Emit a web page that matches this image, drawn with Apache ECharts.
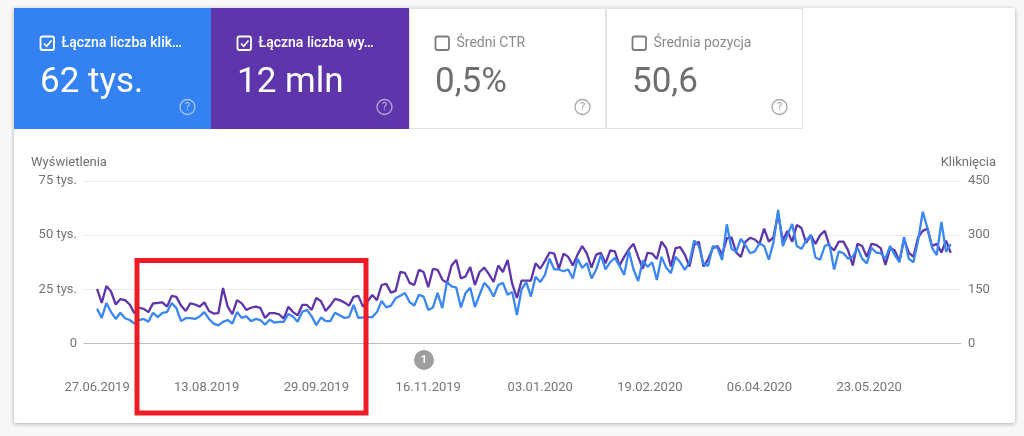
<!DOCTYPE html>
<html lang="pl">
<head>
<meta charset="utf-8">
<script src="https://cdn.jsdelivr.net/npm/echarts@6/dist/echarts.min.js"></script>
<style>html,body{margin:0;padding:0;background:#f7f7f7}#c{width:1024px;height:436px}</style>
</head>
<body>
<div id="c"></div>
<script>
// one reading every second day, starting 27.06.2019
const stepDays = 2;
const impressionsThousands = [
25.2,18.7,26.5,24,18,20.5,20,18,14,16.5,16,14.5,18.5,18.7,19,17,22,21.5,17.5,15,18.5,18,17,19,15,13.8,14,25.6,17,13.5,20,
18.5,15.5,16.5,17,16.4,11.8,14,14,13.5,11.5,16.9,14.5,13,17.8,17.8,15.5,21,19.5,15,17.5,20.6,20,19,17.5,21.5,22,17,19.5,22.4,20,27,
27.5,23.5,24.3,33,32.6,28,27,34,33,26,34.4,34,29.5,28,36,38.6,30,31,35.3,27,33,35,32,28.4,36,33,38.6,27.5,21,29,29,
29,37,34.5,38,42,41.5,34.5,41.5,40,36,41,45,41.5,35,41,41.8,37,43,42.5,36,40,43.5,46,40,34.5,41.8,41.5,39,47,44,35.5,
44,44.5,41,35.5,45.5,47,35.5,39,44,45,41,48.5,49,42,40,47,48.8,48,46,53,47,49,60,47.5,52,46.9,54.7,53.3,46.4,50,46,
50,52,45,43,47,47,43,36,46,45,40,46,45.5,44,36.3,44,43,38,48,42,40,49,52,53,45,46,42,47.5,41.8
];
const clicks = [
96,71,112,87,68,85,70,65,55,65,68,60,85,73,85,87,112,98,62,70,70,68,75,87,68,55,50,60,65,55,87,
71,75,62,68,65,52,66,58,60,60,82,75,60,88,93,75,51,72,62,62,85,78,71,73,107,71,72,73,73,87,118,
100,105,125,132,140,115,105,135,130,93,100,140,98,170,158,155,100,140,154,101,135,168,154,130,162,168,135,143,79,150,170,
130,185,170,190,235,205,205,200,205,180,235,209,223,180,205,245,205,225,237,215,190,257,205,173,230,212,225,176,240,210,195,
240,225,204,225,285,270,220,215,270,265,231,330,262,254,290,272,250,255,277,270,232,280,370,270,300,331,270,262,285,300,238,
232,270,275,205,255,250,235,240,265,235,222,265,252,250,235,270,245,225,295,235,225,285,365,320,265,245,337,254,275
];
const tickDays = [0,47,94,142,190,237,284,331];
const tickLabels = ['27.06.2019','13.08.2019','29.09.2019','16.11.2019','03.01.2020','19.02.2020','06.04.2020','23.05.2020'];
const leftTicks = [0,25,50,75];
const rightTicks = [0,150,300,450];
const leftTitle = 'Wyświetlenia';
const rightTitle = 'Kliknięcia';
const tileTitles = ['Łączna liczba klik…','Łączna liczba wy…','Średni CTR','Średnia pozycja'];
const tileValues = ['62 tys.','12 mln','0,5%','50,6'];
const annotationLabel = '1';

const BLUE='#3a86f3', PURPLE='#5e35ab', GREY='#757575', FONT='Roboto, sans-serif';
const chart = echarts.init(document.getElementById('c'), null, {renderer:'canvas'});

function tile(i,x,w,fill,on){
  const out = [
    {type:'rect',z:1,shape:{x:x+(on?0:.5),y:on?8:8.5,width:on?w:w-1,height:on?121:120},
     style:{fill,stroke:on?null:'#e3e3e3',lineWidth:1}},
    {type:'rect',z:2,shape:{x:x+26.5,y:36.5,width:13.5,height:13.5,r:2},style:{fill:'transparent',stroke:on?'#fff':'#7c7c7c',lineWidth:1.8}},
    {type:'text',z:2,x:x+47.5,y:43,style:{text:tileTitles[i],fill:on?'#fff':'#8a8a8a',font:(on?'500 ':'')+'14px '+FONT,verticalAlign:'middle'}},
    {type:'text',z:2,x:x+26,y:83,style:{text:tileValues[i],fill:on?'#fff':'#6f6f6f',font:'35px '+FONT,verticalAlign:'middle'}},
    {type:'circle',z:2,shape:{cx:x+173.5,cy:107,r:7.5},style:{fill:'transparent',stroke:on?'rgba(255,255,255,.55)':'#a8a8a8',lineWidth:1.3}},
    {type:'text',z:2,x:x+173.5,y:107.5,style:{text:'?',fill:on?'rgba(255,255,255,.6)':'#a0a0a0',font:'11px '+FONT,align:'center',verticalAlign:'middle'}}
  ];
  if(on) out.push({type:'polyline',z:2,shape:{points:[[x+30,43.5],[x+32.7,46.3],[x+37.5,40.5]]},style:{stroke:'#fff',lineWidth:1.7,fill:'none'}});
  return out;
}

chart.setOption({
  animation:false,
  backgroundColor:'#f7f7f7',
  textStyle:{fontFamily:FONT},
  grid:{left:84,right:63,top:181,bottom:92.5,containLabel:false},
  xAxis:{
    type:'value',min:-5.6,max:370.4,
    splitLine:{show:false},
    axisTick:{show:false},
    axisLine:{show:true,onZero:false,lineStyle:{color:'#bdbdbd',width:1}},
    axisLabel:{customValues:tickDays,margin:37,padding:[1,0,0,0],color:'#757575',fontSize:13,fontFamily:FONT,
      formatter:v=>tickLabels[tickDays.indexOf(v)]}
  },
  yAxis:[
    {type:'value',min:0,max:75,interval:25,position:'left',axisLine:{show:false},axisTick:{show:false},
     splitLine:{lineStyle:{color:'#ececec',width:1}},
     axisLabel:{margin:7,padding:[2,0,0,0],color:'#757575',fontSize:13,fontFamily:FONT,formatter:v=>leftTicks.includes(v)?(v===0?'0':v+' tys.'):''}},
    {type:'value',min:0,max:450,interval:150,position:'right',axisLine:{show:false},axisTick:{show:false},
     splitLine:{show:false},
     axisLabel:{margin:7,padding:[2,0,0,0],color:'#757575',fontSize:13,fontFamily:FONT,formatter:v=>rightTicks.includes(v)?String(v):''}}
  ],
  series:[
    {name:leftTitle,type:'line',yAxisIndex:0,showSymbol:false,smooth:false,z:3,
     lineStyle:{color:PURPLE,width:2.3},itemStyle:{color:PURPLE},
     data:impressionsThousands.map((v,i)=>[i*stepDays,v])},
    {name:rightTitle,type:'line',yAxisIndex:1,showSymbol:false,smooth:false,z:4,
     lineStyle:{color:BLUE,width:2.3},itemStyle:{color:BLUE},
     data:clicks.map((v,i)=>[i*stepDays,v])}
  ],
  graphic:{elements:[
    {type:'rect',z:-1,silent:true,shape:{x:14,y:8,width:1001,height:415,r:2},
     style:{fill:'#ffffff',shadowBlur:4,shadowOffsetY:1,shadowColor:'rgba(0,0,0,.3)'}},
    ...tile(0,14,197,'#3482f2',true),
    ...tile(1,211,198,'#5e35ab',true),
    ...tile(2,409,197,'#ffffff',false),
    ...tile(3,606,197,'#ffffff',false),
    {type:'text',z:5,x:31,y:163,style:{text:leftTitle,fill:'#6f6f6f',font:'13px '+FONT,verticalAlign:'middle'}},
    {type:'text',z:5,x:996,y:163,style:{text:rightTitle,fill:'#6f6f6f',font:'13px '+FONT,align:'right',verticalAlign:'middle'}},
    {type:'circle',z:5,shape:{cx:424,cy:360,r:10},style:{fill:'#9e9e9e'}},
    {type:'text',z:6,x:424,y:360,style:{text:annotationLabel,fill:'#fff',font:'bold 11px '+FONT,align:'center',verticalAlign:'middle'}},
    {type:'rect',z:20,shape:{x:137,y:260.5,width:229,height:152.5},style:{fill:'transparent',stroke:'#ed1c24',lineWidth:5}}
  ]}
});
</script>
</body>
</html>
